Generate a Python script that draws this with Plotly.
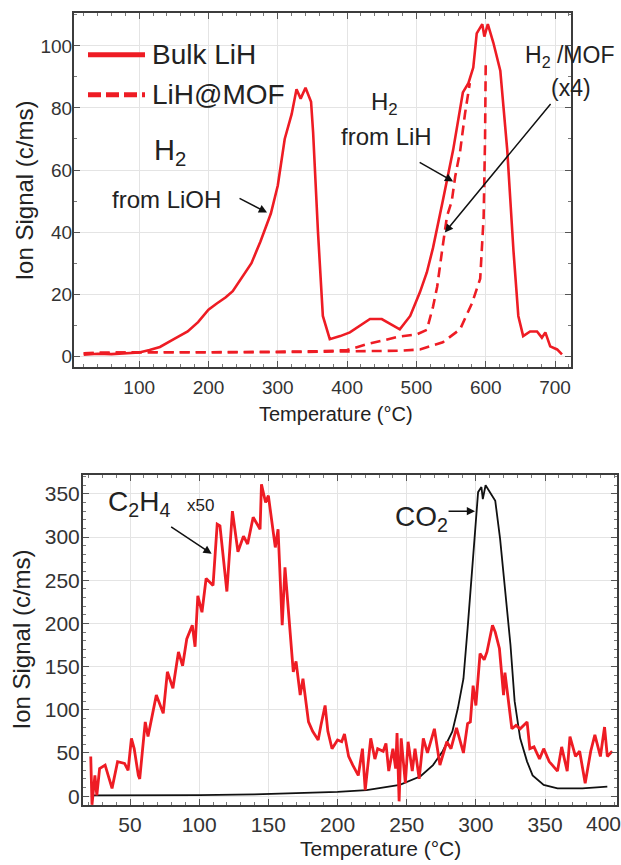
import plotly.graph_objects as go

# ---------------- DATA ----------------
# Top panel: H2 signal (m/z 2) vs temperature
bulk_T = [20, 40, 60, 80, 100, 115, 130, 150, 170, 185, 200, 212, 225, 235, 250, 262, 275, 290, 300, 310,
          320, 327, 333, 340, 348, 351, 358, 365, 375, 390, 404, 420, 433, 450, 465, 476, 491, 505, 515, 524,
          538, 553, 567, 575, 582, 587, 595, 598, 603, 611, 621, 631, 640, 647, 654, 664, 674, 681, 686, 693,
          703, 710]
bulk_H2 = [0.5, 0.8, 0.7, 1, 1.2, 2, 3, 5.5, 8, 11, 15, 17, 19, 21, 26, 30, 37, 46, 55, 70,
           78, 86, 83, 86.5, 82, 72, 40, 13, 5.5, 6.5, 7.7, 10, 12, 12, 10, 8.7, 13, 20.6, 27, 35,
           50, 66.5, 85, 88, 93, 104, 107, 103, 107, 101, 92, 66.5, 34, 13, 6.5, 8, 8, 6, 7.7, 3.2,
           2.2, 0.6]

mof_T = [20, 60, 100, 150, 200, 250, 300, 350, 400, 440, 476, 505, 538, 563, 580, 592, 597, 599, 600]
mof_H2 = [1, 1.2, 1.3, 1.3, 1.2, 1.3, 1.3, 1.4, 1.5, 1.6, 1.8, 2.2, 4.5, 8.7, 17, 25, 45, 70, 95]

mofx4_T = [20, 100, 200, 300, 360, 400, 430, 450, 476, 500, 515, 524, 530, 537, 544, 551, 556, 563, 570, 577]
mofx4_H2 = [1, 1.3, 1.3, 1.4, 1.6, 2, 4, 5, 6.4, 7, 8.5, 16, 22.5, 34, 45, 50, 58, 66, 78, 88]

# Bottom panel: C2H4 (x50) and CO2 signals
c2h4_T = [21.6, 22.5, 24.6, 26, 28, 32, 37, 41, 46, 48.6,
          51, 53, 56, 57, 61, 63, 69, 74, 77, 81,
          85, 88, 91, 95, 97, 99, 102, 105, 110, 113,
          115, 120, 124, 128, 132, 135, 139, 144, 145, 148,
          150, 153, 155, 157, 160, 162, 165, 168, 170, 173,
          175, 179, 182, 186, 188, 191, 193, 196, 200, 203,
          205, 208, 211, 215, 218, 220, 224, 227, 229, 233,
          235, 237, 240, 242, 243, 244.5, 246, 249, 251, 254,
          256, 259, 262, 265, 270, 274, 279, 282, 286, 291,
          294, 296, 298, 300, 303, 306, 308, 312, 314, 317,
          320, 321, 326, 329, 332, 337, 339, 342, 346, 349,
          353, 359, 362, 366, 368, 372, 375, 379, 383, 386,
          390, 393, 395, 398.5]
c2h4_sig = [46, -10, 24, 1, 32, 36, 9, 40, 38, 30,
            67, 55, 24, 20, 86, 69, 117, 96, 144, 125,
            167, 151, 182, 198, 173, 232, 213, 252, 244, 315,
            313, 237, 330, 283, 301, 292, 323, 309, 361, 340,
            348, 309, 288, 309, 198, 265, 199, 144, 156, 117,
            136, 86, 75, 65, 82, 105, 75, 55, 65, 63,
            72, 46, 36, 24, 55, 7, 67, 43, 55, 52,
            61, 29, 55, 32, 73, -6, 67, 15, 63, 29,
            55, 20, 67, 50, 78, 36, 63, 55, 79, 50,
            84, 86, 128, 105, 165, 158, 167, 198, 190, 171,
            117, 143, 78, 82, 78, 86, 55, 57, 43, 55,
            40, 29, 57, 29, 69, 46, 52, 15, 52, 71,
            46, 80, 46, 52]

co2_T = [22, 60, 100, 140, 173, 200, 221, 245, 260, 269, 276, 283, 287, 291, 294, 297, 299.5, 301.6, 304, 305,
         307, 310, 314, 317.5, 321, 325, 328, 332, 337, 341, 349, 359, 377, 395]
co2_sig = [1, 1, 1.2, 2, 3.5, 5, 7, 13, 23, 36, 52, 75, 102, 136, 194, 260, 309, 352, 358, 344,
           360, 352, 342, 298, 240, 175, 110, 67, 40, 24, 13, 9, 9, 11]

top_xticks = [100, 200, 300, 400, 500, 600, 700]
top_yticks = [0, 20, 40, 60, 80, 100]
bot_xticks = [50, 100, 150, 200, 250, 300, 350]
bot_yticks = [0, 50, 100, 150, 200, 250, 300, 350]

# ---------------- STYLE ----------------
W, H = 621, 865
RED = "#ee1c24"
FONT = "Liberation Sans, Arial, sans-serif"
TXT = "#222222"


def px(x):
    return x / W


def py(y):
    return 1 - y / H


fig = go.Figure()

fig.add_trace(go.Scatter(x=bulk_T, y=bulk_H2, mode="lines", name="Bulk LiH",
                         line=dict(color=RED, width=2.6), xaxis="x", yaxis="y", showlegend=False))
fig.add_trace(go.Scatter(x=mof_T, y=mof_H2, mode="lines", name="LiH@MOF",
                         line=dict(color=RED, width=2.6, dash="10px,6px"), xaxis="x", yaxis="y",
                         showlegend=False))
fig.add_trace(go.Scatter(x=mofx4_T, y=mofx4_H2, mode="lines", name="LiH@MOF (x4)",
                         line=dict(color=RED, width=2.6, dash="10px,6px"), xaxis="x", yaxis="y",
                         showlegend=False))
fig.add_trace(go.Scatter(x=co2_T, y=co2_sig, mode="lines", name="CO2",
                         line=dict(color="#111111", width=1.8), xaxis="x2", yaxis="y2", showlegend=False))
fig.add_trace(go.Scatter(x=c2h4_T, y=c2h4_sig, mode="lines", name="C2H4 x50",
                         line=dict(color=RED, width=2.8), xaxis="x2", yaxis="y2", showlegend=False))

axis_common = dict(
    showline=True, mirror="ticks", linecolor="#3c3c3c", linewidth=2,
    ticks="inside", ticklen=6, tickwidth=1.2, tickcolor="#555555",
    showgrid=True, gridcolor="#e4e4e4", gridwidth=1,
    zeroline=False,
)
top_font = dict(family=FONT, size=19, color="#333333")
bot_font = dict(family=FONT, size=21, color="#333333")

fig.update_layout(
    width=W, height=H,
    margin=dict(l=0, r=0, t=0, b=0),
    paper_bgcolor="white", plot_bgcolor="white",
    font=dict(family=FONT, color=TXT),
    showlegend=False,
    xaxis=dict(domain=[px(74), px(571)], range=[6, 723], tickvals=top_xticks, tickfont=top_font,
               ticklabelstandoff=2,
               minor=dict(dtick=20, ticks="inside", ticklen=3, tickcolor="#777777", showgrid=False),
               anchor="y", **axis_common),
    yaxis=dict(domain=[py(368), py(13)], range=[-3.5, 110.6], tickvals=top_yticks, tickfont=top_font,
               ticklabelstandoff=-4,
               minor=dict(dtick=10, ticks="inside", ticklen=3, tickcolor="#777777", showgrid=False),
               anchor="x", **axis_common),
    xaxis2=dict(domain=[px(83), px(617)], range=[16, 402], tickvals=bot_xticks, tickfont=bot_font,
                minor=dict(dtick=10, ticks="inside", ticklen=3, tickcolor="#777777", showgrid=False),
                anchor="y2", **axis_common),
    yaxis2=dict(domain=[py(807), py(476)], range=[-10.4, 372], tickvals=bot_yticks, tickfont=bot_font,
                ticklabelstandoff=-3,
                minor=dict(dtick=10, ticks="inside", ticklen=3, tickcolor="#777777", showgrid=False),
                anchor="x2", **axis_common),
)

ann = []


def text(xp, yp, s, size, **kw):
    ann.append(dict(x=px(xp), y=py(yp), xref="paper", yref="paper", text=s, showarrow=False,
                    font=dict(family=FONT, size=size, color=kw.pop("color", TXT)),
                    xanchor=kw.pop("xanchor", "center"), yanchor=kw.pop("yanchor", "middle"), **kw))


# axis titles
text(25, 191, "Ion Signal (c/ms)", 24, textangle=-90)
text(336, 415, "Temperature (°C)", 20)
text(22, 641, "Ion Signal (c/ms)", 24, textangle=-90)
text(381, 850, "Temperature (°C)", 21)
text(603, 825, "400", 21, color="#333333")

# legend (manual, like the original)
text(150, 55, "Bulk LiH", 28, xanchor="left")
text(150, 95, "LiH@MOF", 28, xanchor="left")

# top panel labels
text(170, 152, "H<sub>2</sub>", 29)
text(167, 200, "from LiOH", 24)
text(384, 104, "H<sub>2</sub>", 24)
text(386, 137, "from LiH", 24)
text(569, 57, "H<sub>2</sub> /MOF", 23)
text(571, 88, "(x4)", 23)

# bottom panel labels
text(139, 505, "C<sub>2</sub>H<sub>4</sub>", 28)
text(200, 507, "x50", 17)
text(421, 520, "CO<sub>2</sub>", 28)


def arrow(x, y, ax, ay, xr, yr):
    ann.append(dict(x=x, y=y, xref=xr, yref=yr, ax=ax, ay=ay, text="", showarrow=True,
                    arrowhead=2, arrowsize=1.1, arrowwidth=1.5, arrowcolor="#111111"))


arrow(284.5, 46.3, -29, -15, "x", "y")
arrow(553, 56.3, -35, -20, "x", "y")
arrow(541, 39.9, 107, -130, "x", "y")
arrow(109, 280.6, -42, -28, "x2", "y2")
arrow(299.4, 330, -28, 0, "x2", "y2")

fig.update_layout(annotations=ann)

# legend samples
fig.add_shape(type="line", xref="paper", yref="paper", x0=px(88), x1=px(145), y0=py(55), y1=py(55),
              line=dict(color=RED, width=5))
fig.add_shape(type="line", xref="paper", yref="paper", x0=px(88), x1=px(145), y0=py(95), y1=py(95),
              line=dict(color=RED, width=5, dash="13px,5px"))

fig.write_html("out.html", config={"displayModeBar": False},
               post_script="document.body.style.margin='0';document.body.style.overflow='hidden';")
